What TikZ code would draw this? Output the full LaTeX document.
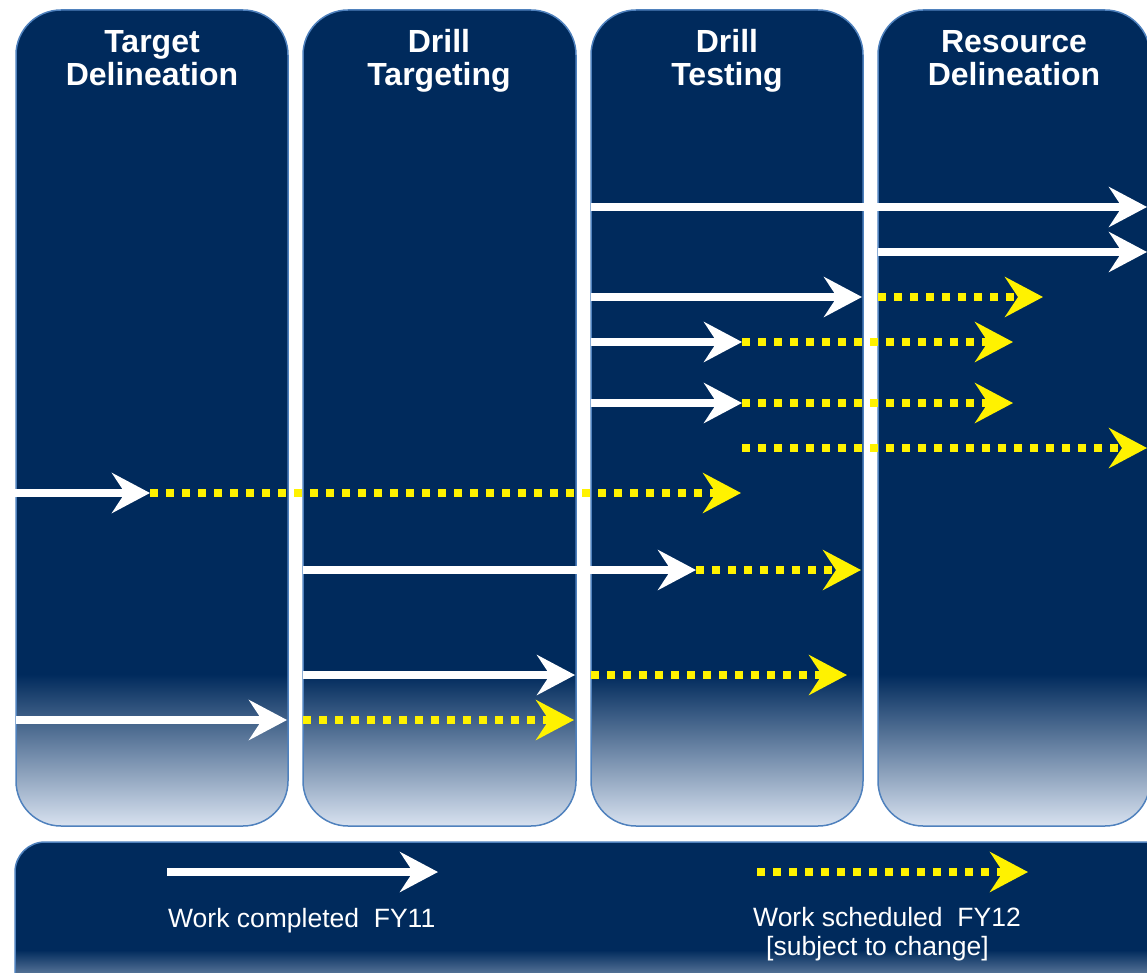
\documentclass[tikz,border=0pt]{standalone}
\usepackage{fontspec}
\setmainfont{Liberation Sans}
\usepackage{tikz}
\usetikzlibrary{arrows.meta}
\definecolor{deepblue}{RGB}{0,42,92}
\definecolor{paleblue}{RGB}{216,226,240}
\definecolor{rimblue}{RGB}{79,129,189}
\pgfdeclareverticalshading{stagefade}{100bp}{color(0bp)=(paleblue); color(25bp)=(paleblue); color(34.3bp)=(deepblue); color(100bp)=(deepblue)}
\pgfdeclareverticalshading{keyfade}{100bp}{color(0bp)=(paleblue); color(25bp)=(paleblue); color(42.9bp)=(deepblue); color(100bp)=(deepblue)}
\tikzstyle{stage}=[draw=rimblue, line width=1.5pt, rounded corners=45pt, shading=stagefade]
\tikzstyle{keybox}=[draw=rimblue, line width=1.5pt, rounded corners=30pt, shading=keyfade]
\tikzstyle{title}=[text=white, font=\fontsize{32}{33}\selectfont\bfseries, align=center, inner sep=0pt, anchor=base]
\tikzstyle{key}=[text=white, font=\fontsize{26.5}{30}\selectfont, inner sep=0pt, anchor=base west]
\tikzstyle{done}=[white, line width=8pt, -{Stealth[length=38pt,width=40pt,inset=13pt]}]
\tikzstyle{plan}=[yellow, line width=8pt, dash pattern=on 8pt off 8pt, -{Stealth[length=38pt,width=40pt,inset=13pt]}]

\begin{document}
\begin{tikzpicture}[x=1pt,y=-1pt]
\useasboundingbox (0,0) rectangle (1147,973);
\shade[stage] (16,10) rectangle (288,826);
\shade[stage] (303,10) rectangle (576,826);
\shade[stage] (591,10) rectangle (863,826);
\shade[stage] (878,10) rectangle (1150,826);
\shade[keybox] (15,842) rectangle (1175,1010);
\node[title] (td) at (152,86) {Target\\Delineation};
\node[title] (dt) at (439,86) {Drill\\Targeting};
\node[title] (dx) at (727,86) {Drill\\Testing};
\node[title] (rd) at (1014,86) {Resource\\Delineation};
\coordinate (s1) at (591,207);
\coordinate (e1) at (1147,207);
\coordinate (s2) at (878,252);
\coordinate (e2) at (1147,252);
\coordinate (s3) at (591,297);
\coordinate (m3) at (862,297);
\coordinate (n3) at (878,297);
\coordinate (e3) at (1043,297);
\coordinate (s4) at (591,342);
\coordinate (m4) at (742,342);
\coordinate (e4) at (1013,342);
\coordinate (s5) at (591,403);
\coordinate (m5) at (742,403);
\coordinate (e5) at (1013,403);
\coordinate (m6) at (742,448);
\coordinate (e6) at (1147,448);
\coordinate (s7) at (0,493);
\coordinate (m7) at (150,493);
\coordinate (e7) at (741,493);
\coordinate (s8) at (303,570);
\coordinate (m8) at (696,570);
\coordinate (e8) at (861,570);
\coordinate (s9) at (303,675);
\coordinate (m9) at (575,675);
\coordinate (n9) at (591,675);
\coordinate (e9) at (847,675);
\coordinate (s10) at (16,720);
\coordinate (m10) at (287,720);
\coordinate (n10) at (303,720);
\coordinate (e10) at (574,720);
\draw[done] (s1) -- (e1);
\draw[done] (s2) -- (e2);
\draw[done] (s3) -- (m3);
\draw[plan] (n3) -- (e3);
\draw[done] (s4) -- (m4);
\draw[plan] (m4) -- (e4);
\draw[done] (s5) -- (m5);
\draw[plan] (m5) -- (e5);
\draw[plan] (m6) -- (e6);
\draw[done] (s7) -- (m7);
\draw[plan] (m7) -- (e7);
\draw[done] (s8) -- (m8);
\draw[plan] (m8) -- (e8);
\draw[done] (s9) -- (m9);
\draw[plan] (n9) -- (e9);
\draw[done] (s10) -- (m10);
\draw[plan] (n10) -- (e10);
\coordinate (k1) at (167,872);
\coordinate (k2) at (438,872);
\coordinate (k3) at (757,872);
\coordinate (k4) at (1028,872);
\draw[done] (k1) -- (k2);
\draw[plan] (k3) -- (k4);
\node[key] (kd) at (168,927) {Work completed~ FY11};
\node[key] (ks) at (753,926) {Work scheduled~ FY12};
\node[key] (kc) at (766,955) {[subject to change]};
\end{tikzpicture}
\end{document}
